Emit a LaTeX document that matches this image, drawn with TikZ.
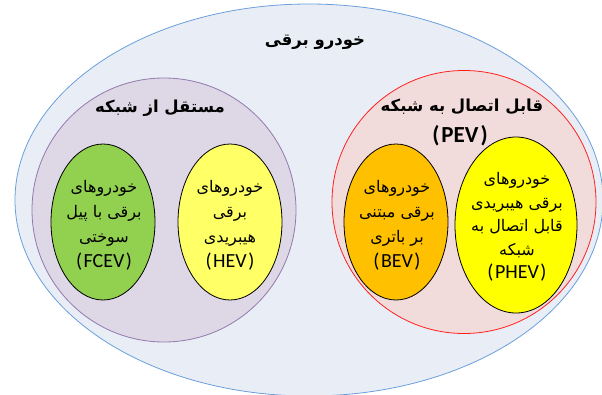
\documentclass[tikz,border=0pt]{standalone}
\usepackage{fontspec}
\usetikzlibrary{shapes.geometric}
\TeXXeTstate=1
\newfontfamily\arabicfont[Script=Arabic]{DejaVu Sans}
\newfontfamily\latinfont{Carlito}
\newcommand{\fatext}[1]{{\arabicfont\beginR #1\endR}}
\newcommand{\abbr}[1]{{\latinfont\fontsize{20}{25}\selectfont (\hspace{1.5pt}#1\hspace{1.5pt})}}
\definecolor{outerline}{HTML}{6A9FDB}
\definecolor{outerfill}{HTML}{E9EEF6}
\definecolor{purpleline}{HTML}{9279AE}
\definecolor{purplefill}{HTML}{DED7E5}
\definecolor{redline}{HTML}{FF2020}
\definecolor{redfill}{HTML}{F2DCDB}
\definecolor{greenfill}{HTML}{92D050}
\definecolor{lightyellow}{HTML}{FFFF66}
\definecolor{orangefill}{HTML}{FFC000}
\definecolor{brightyellow}{HTML}{FFFF00}
\begin{document}
\begin{tikzpicture}[x=1pt,y=-1pt,
  oval/.style={ellipse, inner sep=0pt, line width=0.8pt},
  leaf/.style={oval, draw=black, minimum width=104pt, minimum height=156pt},
  leaftext/.style={align=center, inner sep=0pt, font=\fontsize{16}{25}\selectfont},
  grouptitle/.style={inner sep=0pt, font=\fontsize{16.5}{20}\selectfont\bfseries},
]
\useasboundingbox (0,0) rectangle (602,394);
% outer set
\node[oval, draw=outerline, fill=outerfill, minimum width=588pt, minimum height=392pt] (ev) at (309,200) {};
% groups
\node[oval, draw=purpleline, fill=purplefill, minimum width=264pt, minimum height=264pt] (offgrid) at (164,210) {};
\node[oval, draw=redline, fill=redfill, minimum width=264pt, minimum height=263pt] (plugin) at (464,202) {};
% leaves
\node[leaf, fill=greenfill] (fcev) at (103,222) {};
\node[leaf, fill=lightyellow] (hev) at (230,222) {};
\node[leaf, fill=orangefill] (bev) at (396,222) {};
\node[oval, draw=black, fill=brightyellow, minimum width=122pt, minimum height=176pt] (phev) at (516,225) {};
% titles
\node[grouptitle] (evtitle) at (315,42) {\fatext{خودرو برقی}};
\node[grouptitle] (offtitle) at (160,108) {\fatext{مستقل از شبکه}};
\node[grouptitle] (plugtitle) at (462,107) {\fatext{قابل اتصال به شبکه}};
\node[inner sep=0pt, font=\latinfont\bfseries\fontsize{23}{25}\selectfont] (pevtitle) at (460,136) {(\hspace{2pt}PEV\hspace{2pt})};
% leaf texts
\node[leaftext] (fcevtext) at (104,225) {\fatext{خودروهای}\\ \fatext{برقی با پیل}\\ \fatext{سوختی}\\ \abbr{FCEV}};
\node[leaftext] (hevtext) at (230,225) {\fatext{خودروهای}\\ \fatext{برقی}\\ \fatext{هیبریدی}\\ \abbr{HEV}};
\node[leaftext] (bevtext) at (397,225) {\fatext{خودروهای}\\ \fatext{برقی مبتنی}\\ \fatext{بر باتری}\\ \abbr{BEV}};
\node[leaftext, font=\fontsize{16}{23.5}\selectfont] (phevtext) at (517,227) {\fatext{خودروهای}\\ \fatext{برقی هیبریدی}\\ \fatext{قابل اتصال به}\\ \fatext{شبکه}\\ {\latinfont\fontsize{20}{27}\selectfont (\hspace{1.5pt}PHEV\hspace{1.5pt})}};
\end{tikzpicture}
\end{document}
